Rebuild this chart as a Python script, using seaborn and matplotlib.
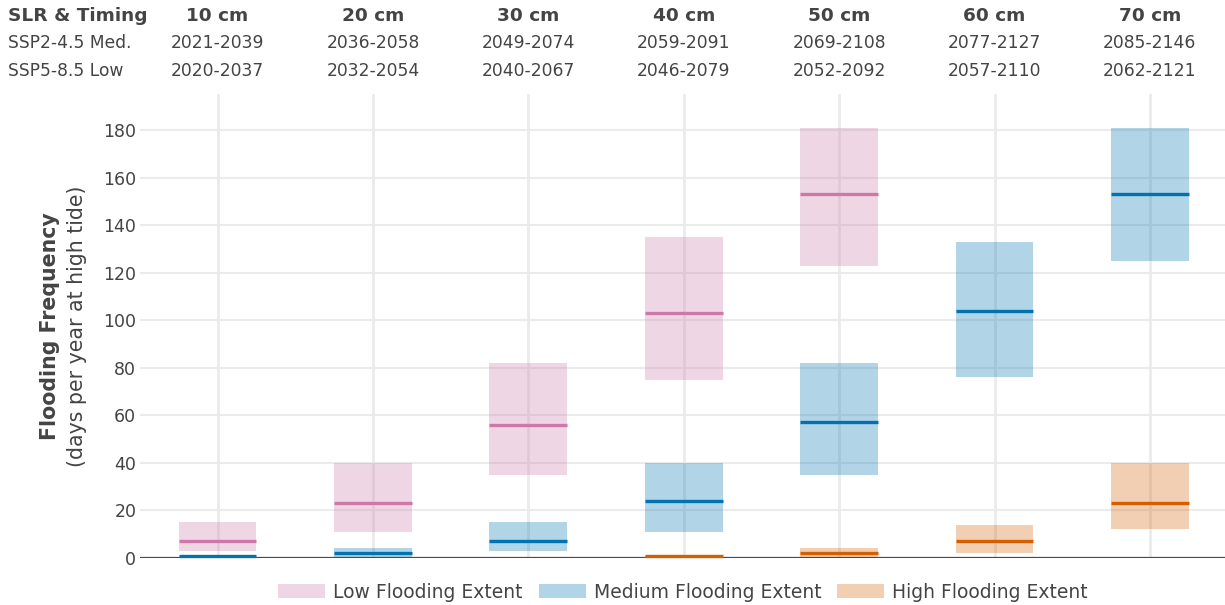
import matplotlib
matplotlib.use("Agg")
import matplotlib.pyplot as plt
from matplotlib.patches import Patch
from matplotlib.transforms import blended_transform_factory
import pandas as pd
import seaborn as sns

# Sea-level-rise increments and the periods in which they are reached
levels = ["10 cm", "20 cm", "30 cm", "40 cm", "50 cm", "60 cm", "70 cm"]
ssp245_med = ["2021-2039", "2036-2058", "2049-2074", "2059-2091",
              "2069-2108", "2077-2127", "2085-2146"]
ssp585_low = ["2020-2037", "2032-2054", "2040-2067", "2046-2079",
              "2052-2092", "2057-2110", "2062-2121"]

# Flooding frequency (days per year at high tide): range and median
low_levels = ["10 cm", "20 cm", "30 cm", "40 cm", "50 cm"]
low_lo = [3, 11, 35, 75, 123]
low_med = [7, 23, 56, 103, 153]
low_hi = [15, 40, 82, 135, 181]

mid_levels = ["10 cm", "20 cm", "30 cm", "40 cm", "50 cm", "60 cm", "70 cm"]
mid_lo = [0, 0, 3, 11, 35, 76, 125]
mid_med = [1, 2, 7, 24, 57, 104, 153]
mid_hi = [1, 4, 15, 40, 82, 133, 181]

high_levels = ["40 cm", "50 cm", "60 cm", "70 cm"]
high_lo = [0, 0, 2, 12]
high_med = [1, 2, 7, 23]
high_hi = [1, 4, 14, 40]

y_ticks = [0, 20, 40, 60, 80, 100, 120, 140, 160, 180]

series = [
    ("Low Flooding Extent", "#cc79a7", low_levels, low_lo, low_med, low_hi),
    ("Medium Flooding Extent", "#0072b2", mid_levels, mid_lo, mid_med, mid_hi),
    ("High Flooding Extent", "#d55e00", high_levels, high_lo, high_med, high_hi),
]

sns.set_style("white")
plt.rcParams["font.family"] = ["DejaVu Sans"]
TEXT = "#444444"

W, H = 1225, 605
fig = plt.figure(figsize=(W / 100, H / 100), dpi=100)
x0 = 139.8
ax = fig.add_axes([x0 / W, (H - 558) / H, (W - x0) / W, (558 - 94.3) / H])

BAND_ALPHA = 0.3
half = 0.25
for name, color, cats, lo, med, hi in series:
    df = pd.DataFrame({"level": cats,
                       "span": [h - l for h, l in zip(hi, lo)]})
    sns.barplot(data=df, x="level", y="span", order=levels, bottom=lo,
                width=2 * half, color=color, saturation=1, alpha=BAND_ALPHA,
                errorbar=None, linewidth=0, edgecolor="none", ax=ax, zorder=2)
    pos = [levels.index(c) for c in cats]
    ax.hlines(med, [p - half for p in pos], [p + half for p in pos],
              color=color, lw=2.4, zorder=4, clip_on=False)

ax.axhline(0, color="#4a4a4a", lw=1.6, zorder=3)

ax.set_xlim(-0.5, (W - 217.5) / 155.4)
ax.set_ylim(0, 195)
ax.set_yticks(y_ticks)
ax.set_xticks(range(len(levels)))
ax.set_xticklabels([])
ax.set_xlabel("")
ax.set_ylabel("")
ax.tick_params(axis="both", length=0)
ax.tick_params(axis="y", pad=2.5, labelsize=12.5, labelcolor=TEXT)
ax.set_axisbelow(True)
ax.xaxis.grid(True, color="#ebebeb", lw=2)
ax.yaxis.grid(True, color="#ebebeb", lw=1.5)
for s in ax.spines.values():
    s.set_visible(False)

# Header table: SLR increment and timing under two scenarios
tr = blended_transform_factory(ax.transData, fig.transFigure)
fig.text(8 / W, 1 - 16 / H, "SLR & Timing", fontsize=13.3, fontweight="bold",
         color=TEXT, ha="left", va="center")
fig.text(8 / W, 1 - 43 / H, "SSP2-4.5 Med.", fontsize=12.3, color=TEXT,
         ha="left", va="center")
fig.text(8 / W, 1 - 71 / H, "SSP5-8.5 Low", fontsize=12.3, color=TEXT,
         ha="left", va="center")
for i, lev in enumerate(levels):
    ax.text(i, 1 - 16 / H, lev, transform=tr, fontsize=13.3, fontweight="bold",
            color=TEXT, ha="center", va="center")
    ax.text(i, 1 - 43 / H, ssp245_med[i], transform=tr, fontsize=12.3,
            color=TEXT, ha="center", va="center")
    ax.text(i, 1 - 71 / H, ssp585_low[i], transform=tr, fontsize=12.3,
            color=TEXT, ha="center", va="center")

# Two-line y-axis title
fig.text(50 / W, 1 - 326 / H, "Flooding Frequency", rotation=90,
         fontsize=14.8, fontweight="bold", color=TEXT, ha="center", va="center")
fig.text(77 / W, 1 - 326 / H, "(days per year at high tide)", rotation=90,
         fontsize=14.8, color=TEXT, ha="center", va="center")

handles = [Patch(facecolor=c, alpha=BAND_ALPHA, edgecolor="none", label=n)
           for n, c, *_ in series]
fig.legend(handles=handles, loc="center", ncol=3, frameon=False,
           bbox_to_anchor=(683 / W, 1 - 592 / H), fontsize=13.5,
           handlelength=2.5, handleheight=0.75, handletextpad=0.43,
           columnspacing=0.85, labelcolor=TEXT)

fig.savefig("out.png", dpi=100)
